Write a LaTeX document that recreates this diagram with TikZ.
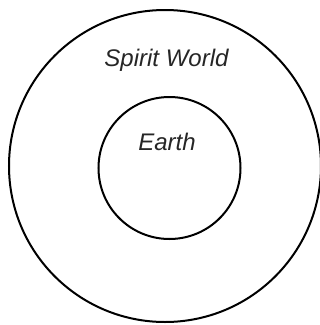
\documentclass[tikz,border=0pt]{standalone}
\usepackage{fontspec}
\setmainfont{Liberation Sans}
\begin{document}
\begin{tikzpicture}[x=1pt,y=-1pt,
  ring/.style={draw=black,line width=2pt,circle,minimum size=#1,inner sep=0pt},
  lbl/.style={font=\fontsize{24}{28}\selectfont\itshape,text=black!85}]
\useasboundingbox (0,0) rectangle (320,325);
\begin{scope}
\clip (0,0) rectangle (320,325);
\node[ring=312pt] (outer) at (165,166) {};
\node[ring=142pt] (inner) at (169.5,168) {};
\end{scope}
\node[lbl] (sw) at (166.5,60) {Spirit World};
\node[lbl] (earth) at (167,142) {Earth};
\end{tikzpicture}
\end{document}
